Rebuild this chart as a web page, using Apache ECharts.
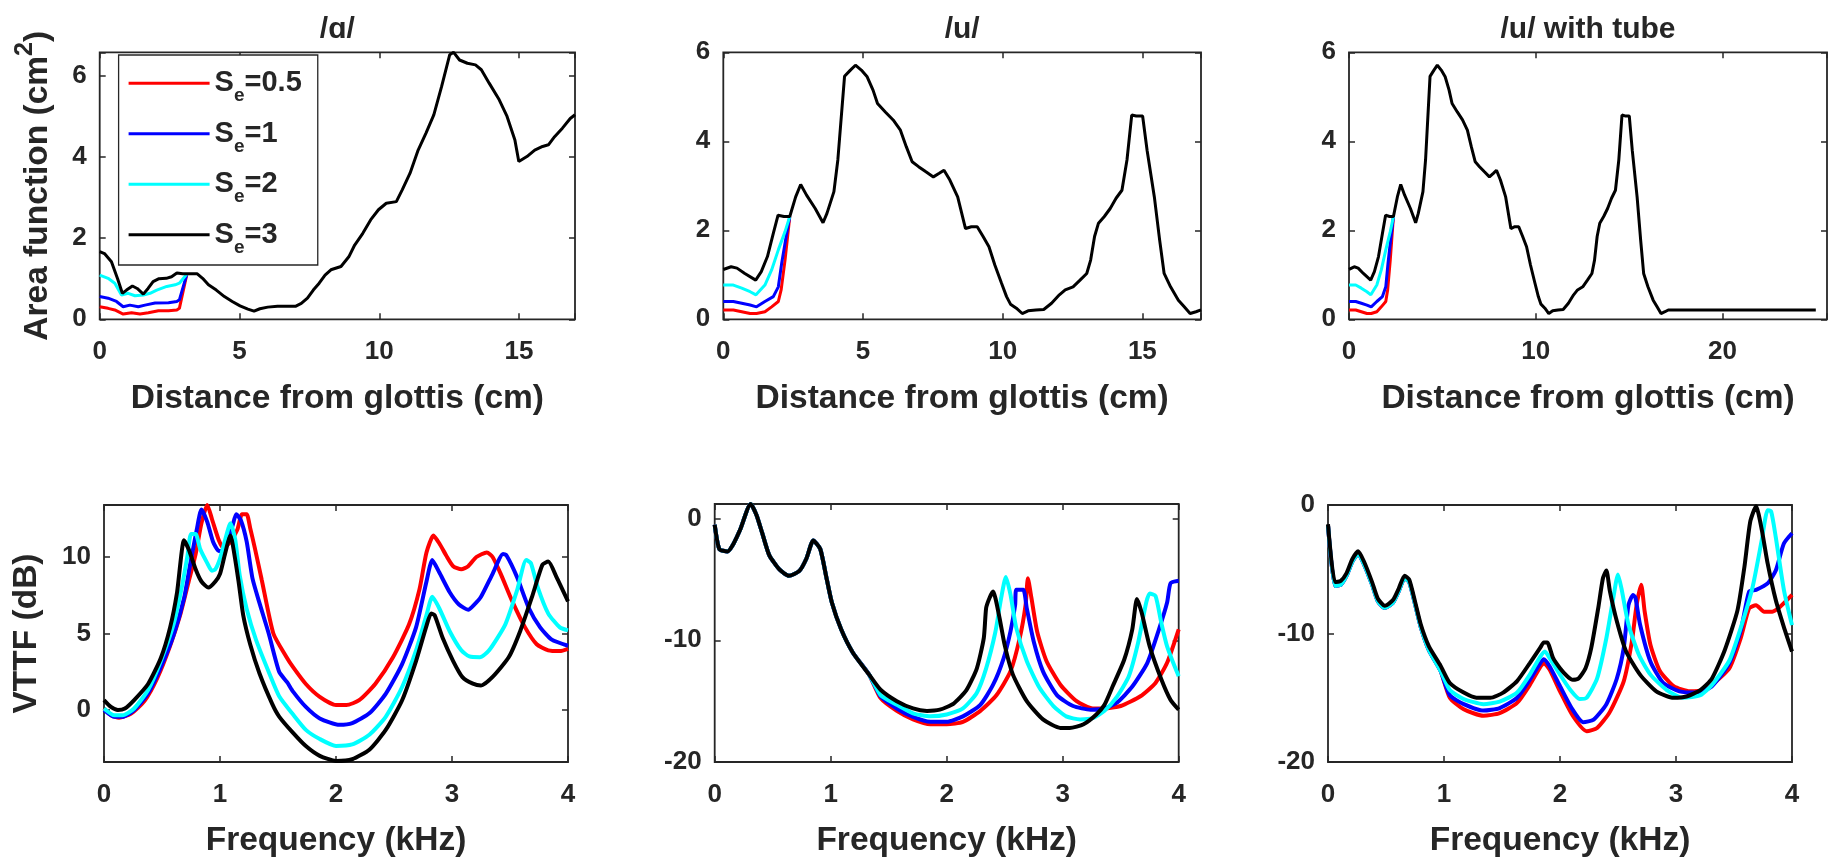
<!DOCTYPE html>
<html><head><meta charset="utf-8">
<script src="https://cdn.jsdelivr.net/npm/echarts@6.0.0/dist/echarts.min.js"></script>
<style>html,body{margin:0;padding:0;background:#fff}#c{width:1834px;height:864px}</style>
</head><body><div id="c"></div>
<script>
// ---------------- labels ----------------
const seNames = ['Se=0.5', 'Se=1', 'Se=2', 'Se=3'];
const seColors = ['#ff0000', '#0000ff', '#00ffff', '#000000'];
const panelTitles = ['/ɑ/', '/u/', '/u/ with tube'];
const topXName = 'Distance from glottis (cm)';
const botXName = 'Frequency (kHz)';
const botYName = 'VTTF (dB)';
// axis ranges / tick steps
const topXRange = [[0, 17], [0, 17.1], [0, 25.6]];
const topXStep = [5, 5, 10];
const topYRange = [[0, 6.58], [0, 6], [0, 6]];
const topYStep = [2, 2, 2];
const botXRange = [[0, 4], [0, 4], [0, 4]];
const botXStep = [1, 1, 1];
const botYRange = [[-3.4, 13.4], [-20, 1.2], [-20, 0]];
const botYStep = [5, 10, 10];

// ---------------- area function /ɑ/ (x cm, area cm2) ----------------
const aBlack = [[0,1.67],[0.17,1.62],[0.42,1.42],[0.64,1.0],[0.81,0.64],[0.96,0.72],[1.17,0.82],[1.34,0.76],[1.56,0.62],[1.73,0.76],[1.91,0.93],[2.12,1.0],[2.38,1.01],[2.57,1.05],[2.76,1.14],[2.97,1.12],[3.22,1.12],[3.49,1.12],[3.68,1.01],[3.89,0.85],[4.17,0.72],[4.46,0.56],[4.74,0.44],[5.02,0.33],[5.3,0.25],[5.52,0.2],[5.73,0.26],[6.01,0.3],[6.36,0.32],[7.0,0.32],[7.21,0.39],[7.43,0.52],[7.64,0.72],[7.85,0.89],[8.06,1.09],[8.27,1.22],[8.63,1.3],[8.91,1.54],[9.12,1.83],[9.41,2.12],[9.69,2.45],[9.97,2.7],[10.25,2.86],[10.61,2.9],[10.82,3.19],[11.1,3.6],[11.39,4.17],[11.67,4.59],[11.95,5.04],[12.23,5.74],[12.52,6.52],[12.66,6.58],[12.87,6.39],[13.15,6.31],[13.44,6.27],[13.65,6.15],[13.93,5.82],[14.29,5.41],[14.57,5.0],[14.85,4.42],[14.99,3.89],[15.28,4.01],[15.56,4.17],[15.84,4.26],[16.05,4.3],[16.27,4.5],[16.55,4.71],[16.83,4.95],[17.0,5.04]];
const aCyan = [[0,1.09],[0.3,1.01],[0.54,0.89],[0.78,0.6],[1.02,0.64],[1.26,0.58],[1.56,0.6],[1.8,0.64],[2.04,0.72],[2.4,0.81],[2.7,0.85],[2.85,0.89],[3.12,1.12]];
const aBlue = [[0,0.56],[0.3,0.52],[0.6,0.44],[0.84,0.31],[1.08,0.35],[1.38,0.31],[1.62,0.35],[1.98,0.4],[2.46,0.41],[2.76,0.44],[2.85,0.48],[3.12,1.12]];
const aRed = [[0,0.31],[0.3,0.27],[0.54,0.23],[0.84,0.13],[1.14,0.16],[1.44,0.13],[1.74,0.16],[2.1,0.21],[2.46,0.21],[2.76,0.23],[2.85,0.27],[3.12,1.12]];

// ---------------- area function /u/ ----------------
const uBlack = [[0,1.12],[0.28,1.18],[0.49,1.15],[0.77,1.03],[1.16,0.88],[1.36,1.07],[1.58,1.41],[1.79,1.93],[1.96,2.34],[2.17,2.31],[2.38,2.31],[2.59,2.75],[2.77,3.03],[2.98,2.79],[3.29,2.49],[3.57,2.17],[3.71,2.38],[3.96,2.87],[4.1,3.58],[4.34,5.46],[4.55,5.6],[4.73,5.71],[4.94,5.6],[5.15,5.45],[5.36,5.15],[5.52,4.85],[5.8,4.66],[6.08,4.48],[6.34,4.25],[6.55,3.88],[6.76,3.54],[6.99,3.43],[7.24,3.32],[7.52,3.2],[7.73,3.28],[7.9,3.35],[8.11,3.13],[8.39,2.75],[8.67,2.04],[8.88,2.08],[9.09,2.08],[9.3,1.86],[9.51,1.63],[9.72,1.22],[9.96,0.81],[10.14,0.51],[10.28,0.34],[10.49,0.25],[10.7,0.13],[10.91,0.19],[11.19,0.21],[11.47,0.22],[11.75,0.36],[12.03,0.55],[12.24,0.66],[12.52,0.73],[12.77,0.88],[13.01,1.03],[13.15,1.33],[13.29,1.86],[13.43,2.16],[13.64,2.31],[13.85,2.49],[14.06,2.72],[14.27,2.9],[14.45,3.58],[14.62,4.59],[14.78,4.57],[15.01,4.57],[15.17,3.8],[15.43,2.75],[15.62,1.78],[15.78,1.03],[16.01,0.73],[16.29,0.43],[16.5,0.28],[16.71,0.13],[16.92,0.17],[17.1,0.21]];
const uCyan = [[0,0.77],[0.36,0.77],[0.66,0.7],[0.96,0.62],[1.17,0.55],[1.49,0.77],[1.73,1.11],[1.97,1.56],[2.21,1.97],[2.38,2.31]];
const uBlue = [[0,0.4],[0.36,0.4],[0.66,0.36],[0.96,0.32],[1.19,0.28],[1.49,0.4],[1.79,0.51],[1.97,0.73],[2.09,1.26],[2.25,1.86],[2.38,2.31]];
const uRed = [[0,0.21],[0.36,0.21],[0.66,0.17],[0.96,0.13],[1.19,0.13],[1.49,0.17],[1.73,0.28],[1.97,0.4],[2.07,0.66],[2.21,1.33],[2.38,2.31]];
// extension tube appended to /u/
const tubeBlack = [[17.5,0.21],[25.0,0.21]];

// ---------------- VTTF /ɑ/ (kHz, dB) ----------------
const vaRed = [[0,0.1],[0.06,-0.35],[0.13,-0.5],[0.23,-0.25],[0.35,0.6],[0.46,2.1],[0.57,4.2],[0.66,6.3],[0.73,8.4],[0.79,10.2],[0.84,12.2],[0.89,13.4],[0.93,12.5],[0.99,11.1],[1.03,10.6],[1.09,11.0],[1.15,11.8],[1.19,12.8],[1.23,12.8],[1.26,11.9],[1.3,10.6],[1.36,8.5],[1.46,5.0],[1.57,3.5],[1.63,2.8],[1.74,1.7],[1.86,0.86],[2.0,0.32],[2.09,0.32],[2.2,0.64],[2.34,1.72],[2.49,3.43],[2.63,5.6],[2.72,7.9],[2.78,10.3],[2.84,11.4],[2.89,10.9],[2.95,10.1],[3.01,9.4],[3.08,9.2],[3.14,9.4],[3.21,10.0],[3.3,10.3],[3.35,10.0],[3.42,8.9],[3.52,7.1],[3.63,5.4],[3.73,4.3],[3.83,3.9],[3.93,3.85],[4.0,4.0]];
const vaBlue = [[0,0],[0.09,-0.45],[0.16,-0.45],[0.26,0],[0.38,1.1],[0.49,2.8],[0.6,4.9],[0.69,7.3],[0.74,9.4],[0.8,11.8],[0.84,13.1],[0.89,12.3],[0.94,11.0],[0.99,10.4],[1.03,10.4],[1.07,11.1],[1.11,12.1],[1.14,12.8],[1.18,12.4],[1.23,11.0],[1.28,8.6],[1.34,7.0],[1.42,5.0],[1.51,2.5],[1.58,1.8],[1.63,1.2],[1.74,0.2],[1.86,-0.55],[2.03,-0.97],[2.14,-0.86],[2.29,-0.2],[2.43,1.07],[2.57,3.0],[2.69,5.4],[2.78,8.4],[2.83,9.8],[2.89,9.0],[2.98,7.7],[3.06,6.9],[3.14,6.55],[3.19,6.87],[3.25,7.4],[3.35,8.9],[3.44,10.2],[3.47,10.1],[3.56,8.7],[3.66,6.7],[3.76,5.4],[3.86,4.6],[4.0,4.2]];
const vaCyan = [[0,0.1],[0.09,-0.35],[0.16,-0.35],[0.26,0.1],[0.38,1.3],[0.49,3.2],[0.6,5.6],[0.67,8.0],[0.72,10.1],[0.75,11.5],[0.79,11.5],[0.83,10.5],[0.89,9.6],[0.93,9.1],[0.96,9.2],[1.0,9.9],[1.04,11.0],[1.09,12.2],[1.13,11.2],[1.17,8.8],[1.23,6.6],[1.31,4.6],[1.43,2.3],[1.51,0.9],[1.63,-0.3],[1.74,-1.3],[1.86,-1.9],[2.0,-2.35],[2.14,-2.25],[2.29,-1.6],[2.43,-0.43],[2.57,1.5],[2.69,3.9],[2.78,6.2],[2.83,7.4],[2.89,6.65],[2.98,5.15],[3.08,3.9],[3.15,3.5],[3.24,3.45],[3.32,3.9],[3.46,5.6],[3.56,7.8],[3.64,9.8],[3.68,9.6],[3.74,8.0],[3.83,6.3],[3.93,5.4],[4.0,5.2]];
const vaBlack = [[0,0.65],[0.06,0.2],[0.12,0.0],[0.18,0.1],[0.26,0.65],[0.38,1.7],[0.49,3.4],[0.57,5.4],[0.63,7.7],[0.69,11.1],[0.73,10.5],[0.79,9.2],[0.84,8.4],[0.9,8.0],[0.96,8.4],[1.0,8.9],[1.04,10.1],[1.09,11.4],[1.11,10.8],[1.16,8.4],[1.2,6.2],[1.26,4.3],[1.34,2.4],[1.45,0.4],[1.51,-0.43],[1.63,-1.5],[1.74,-2.36],[1.86,-3.0],[2.0,-3.33],[2.14,-3.22],[2.29,-2.58],[2.43,-1.29],[2.57,0.64],[2.69,3.2],[2.78,5.5],[2.82,6.3],[2.85,6.2],[2.92,4.7],[3.01,3.2],[3.09,2.15],[3.18,1.72],[3.25,1.6],[3.35,2.16],[3.49,3.46],[3.59,5.2],[3.69,7.4],[3.78,9.5],[3.83,9.7],[3.9,8.7],[4.0,7.1]];

// ---------------- VTTF /u/ ----------------
const vuLow = [[0,-0.5],[0.04,-2.5],[0.11,-2.7],[0.16,-2.1],[0.22,-0.9],[0.31,1.2],[0.36,0.3],[0.41,-1.2],[0.47,-3.0],[0.56,-4.2],[0.64,-4.7],[0.73,-4.3],[0.79,-3.3],[0.85,-1.8],[0.91,-2.5],[0.96,-4.7],[1.01,-6.9],[1.09,-9.1],[1.19,-11.0],[1.33,-12.8]];
const vuRed = [[1.43,-14.75],[1.57,-15.8],[1.71,-16.5],[1.86,-16.9],[2.0,-16.9],[2.14,-16.7],[2.29,-15.8],[2.43,-14.5],[2.55,-12.55],[2.63,-9.8],[2.68,-7.1],[2.7,-4.9],[2.73,-6.5],[2.78,-9.3],[2.86,-11.7],[2.98,-13.65],[3.12,-15.0],[3.26,-15.6],[3.36,-15.6],[3.5,-15.4],[3.67,-14.6],[3.8,-13.5],[3.9,-11.85],[4.0,-9.1]];
const vuBlue = [[1.43,-14.6],[1.57,-15.6],[1.71,-16.3],[1.86,-16.7],[2.0,-16.7],[2.14,-16.25],[2.29,-15.3],[2.4,-13.65],[2.49,-11.5],[2.55,-9.27],[2.59,-7.1],[2.6,-5.84],[2.66,-5.84],[2.69,-7.35],[2.75,-10.1],[2.83,-12.55],[2.95,-14.5],[3.09,-15.4],[3.24,-15.7],[3.36,-15.6],[3.47,-15.1],[3.6,-13.8],[3.73,-11.85],[3.83,-9.1],[3.9,-6.9],[3.93,-5.3],[4.0,-5.1]];
const vuCyan = [[1.43,-14.5],[1.57,-15.3],[1.71,-16.0],[1.86,-16.25],[2.0,-16.1],[2.14,-15.6],[2.26,-14.3],[2.34,-12.3],[2.42,-9.3],[2.47,-6.5],[2.51,-4.8],[2.55,-6.25],[2.6,-9.0],[2.69,-11.7],[2.8,-13.9],[2.92,-15.4],[3.03,-16.25],[3.15,-16.5],[3.26,-16.4],[3.36,-15.8],[3.47,-14.6],[3.57,-12.95],[3.65,-10.2],[3.72,-6.9],[3.75,-6.15],[3.8,-6.35],[3.85,-8.56],[3.9,-10.5],[4.0,-12.95]];
const vuBlack = [[1.43,-14.06],[1.57,-15.0],[1.71,-15.6],[1.83,-15.8],[1.94,-15.7],[2.06,-15.2],[2.17,-14.1],[2.26,-12.3],[2.32,-9.8],[2.34,-7.35],[2.37,-6.5],[2.4,-6.0],[2.45,-7.9],[2.5,-10.4],[2.57,-12.8],[2.69,-15.0],[2.83,-16.5],[2.98,-17.2],[3.06,-17.2],[3.18,-16.9],[3.29,-16.1],[3.36,-15.3],[3.43,-13.8],[3.53,-11.6],[3.6,-9.1],[3.64,-6.6],[3.68,-7.7],[3.75,-10.5],[3.85,-13.2],[3.93,-14.9],[4.0,-15.7]];

// ---------------- VTTF /u/ with tube ----------------
const vtLowColor = [[0,-1.56],[0.06,-6.3],[0.11,-6.2],[0.16,-5.5],[0.21,-4.4],[0.26,-3.8],[0.31,-4.6],[0.38,-6.2],[0.43,-7.5],[0.49,-8.0],[0.56,-7.6],[0.61,-6.7],[0.66,-5.7],[0.7,-6.0],[0.75,-7.7],[0.8,-9.5],[0.87,-11.3],[0.97,-12.9]];
const vtLowBlack = [[0,-1.5],[0.06,-6.0],[0.11,-5.9],[0.16,-5.3],[0.21,-4.2],[0.26,-3.6],[0.31,-4.4],[0.38,-6.0],[0.43,-7.3],[0.49,-7.85],[0.56,-7.4],[0.61,-6.5],[0.66,-5.5],[0.7,-5.8],[0.75,-7.5],[0.8,-9.3],[0.87,-11.0],[0.97,-12.5]];
const vtRed = [[1.05,-15.0],[1.17,-15.9],[1.34,-16.4],[1.48,-16.2],[1.63,-15.4],[1.74,-14.0],[1.83,-12.6],[1.86,-12.3],[1.91,-12.8],[2.0,-14.5],[2.11,-16.4],[2.23,-17.6],[2.32,-17.35],[2.43,-16.1],[2.55,-13.7],[2.62,-10.6],[2.66,-7.8],[2.7,-6.2],[2.73,-8.3],[2.78,-10.9],[2.86,-12.9],[2.98,-14.1],[3.12,-14.5],[3.24,-14.4],[3.31,-14.0],[3.46,-12.7],[3.56,-10.3],[3.63,-8.05],[3.69,-7.8],[3.76,-8.3],[3.83,-8.3],[3.9,-7.9],[4.0,-7.0]];
const vtBlue = [[1.05,-14.8],[1.17,-15.5],[1.34,-16.0],[1.48,-15.8],[1.63,-15.0],[1.74,-13.6],[1.83,-12.3],[1.86,-12.0],[1.91,-12.55],[2.0,-14.1],[2.1,-15.8],[2.2,-16.9],[2.29,-16.7],[2.4,-15.5],[2.49,-13.5],[2.55,-11.1],[2.59,-7.8],[2.63,-7.0],[2.65,-7.2],[2.69,-9.3],[2.78,-12.2],[2.89,-13.85],[3.03,-14.5],[3.18,-14.6],[3.31,-14.1],[3.46,-12.3],[3.56,-9.7],[3.63,-6.75],[3.69,-6.6],[3.79,-6.1],[3.86,-5.1],[3.93,-3.0],[4.0,-2.2]];
const vtCyan = [[1.05,-14.4],[1.17,-15.1],[1.34,-15.5],[1.48,-15.3],[1.63,-14.6],[1.74,-13.2],[1.83,-11.8],[1.87,-11.4],[1.91,-11.9],[2.0,-13.2],[2.09,-14.4],[2.17,-15.1],[2.23,-15.0],[2.32,-13.5],[2.4,-10.35],[2.46,-7.2],[2.5,-5.4],[2.53,-6.5],[2.59,-9.3],[2.68,-11.65],[2.78,-13.2],[2.92,-14.4],[3.06,-15.0],[3.21,-14.8],[3.31,-14.0],[3.46,-12.1],[3.56,-9.5],[3.66,-6.4],[3.74,-2.7],[3.79,-0.4],[3.82,-0.5],[3.86,-2.5],[3.93,-6.6],[4.0,-9.35]];
const vtBlack = [[1.05,-13.85],[1.17,-14.6],[1.28,-15.0],[1.4,-15.0],[1.51,-14.6],[1.63,-13.7],[1.74,-12.3],[1.83,-11.1],[1.86,-10.7],[1.89,-10.7],[1.94,-11.9],[2.0,-12.7],[2.06,-13.3],[2.11,-13.6],[2.16,-13.5],[2.22,-12.7],[2.27,-11.1],[2.33,-8.0],[2.37,-5.7],[2.4,-5.1],[2.43,-6.7],[2.49,-9.05],[2.57,-11.4],[2.69,-13.2],[2.83,-14.5],[2.98,-15.0],[3.09,-14.9],[3.21,-14.4],[3.31,-13.5],[3.42,-11.3],[3.53,-8.2],[3.59,-4.8],[3.64,-1.3],[3.69,-0.1],[3.74,-1.95],[3.79,-4.55],[3.86,-7.4],[3.93,-9.5],[4.0,-11.4]];

// ---------------- build chart ----------------
const FONT = "'Liberation Sans', Arial, 'DejaVu Sans', sans-serif";
const TXT = '#262626';

const panels = [
  {grid: {left: 99.7, top: 52.3, width: 475.3, height: 267}, xr: topXRange[0], xs: topXStep[0], yr: topYRange[0], ys: topYStep[0], lw: 3, sm: 0,
   data: [aRed, aBlue, aCyan, aBlack], xName: topXName, yName: '{a|Area function (cm}{b|2}{a|)}', yGap: 37},
  {grid: {left: 723.3, top: 52.3, width: 477.7, height: 267}, xr: topXRange[1], xs: topXStep[1], yr: topYRange[1], ys: topYStep[1], lw: 3, sm: 0,
   data: [uRed, uBlue, uCyan, uBlack], xName: topXName},
  {grid: {left: 1349, top: 52.3, width: 478, height: 267}, xr: topXRange[2], xs: topXStep[2], yr: topYRange[2], ys: topYStep[2], lw: 3, sm: 0,
   data: [uRed, uBlue, uCyan, uBlack.concat(tubeBlack)], xName: topXName},
  {grid: {left: 104, top: 505, width: 464, height: 257}, xr: botXRange[0], xs: botXStep[0], yr: botYRange[0], ys: botYStep[0], lw: 4, sm: 0.2,
   data: [vaRed, vaBlue, vaCyan, vaBlack], xName: botXName, yName: botYName, yGap: 60},
  {grid: {left: 714.7, top: 504, width: 464, height: 258}, xr: botXRange[1], xs: botXStep[1], yr: botYRange[1], ys: botYStep[1], lw: 4, sm: 0.2,
   data: [vuLow.concat(vuRed), vuLow.concat(vuBlue), vuLow.concat(vuCyan), vuLow.concat(vuBlack)], xName: botXName},
  {grid: {left: 1328, top: 505, width: 464, height: 257}, xr: botXRange[2], xs: botXStep[2], yr: botYRange[2], ys: botYStep[2], lw: 4, sm: 0.2,
   data: [vtLowColor.concat(vtRed), vtLowColor.concat(vtBlue), vtLowColor.concat(vtCyan), vtLowBlack.concat(vtBlack)], xName: botXName}
];

function fmt(step) {
  return function (v) {
    const r = v / step;
    return Math.abs(r - Math.round(r)) < 1e-6 ? String(Math.round(v)) : '';
  };
}
function baseAxis(gi, range, step, pos, showLabel, margin) {
  const ax = {
    type: 'value', gridIndex: gi, min: range[0], max: range[1], position: pos,
    axisLine: {show: false, onZero: false},
    axisTick: {show: true, inside: true, length: 6, lineStyle: {color: TXT, width: 1.5}},
    splitLine: {show: false},
    axisLabel: {show: showLabel, fontFamily: FONT, fontWeight: 'bold', fontSize: 26, color: TXT,
                margin: margin, formatter: fmt(step), lineHeight: 26}
  };
  if (Math.abs(range[0] / step - Math.round(range[0] / step)) < 1e-9) ax.interval = step;
  else ax.splitNumber = 3;
  return ax;
}

const grids = [], xAxes = [], yAxes = [], series = [], titles = [];
panels.forEach((p, gi) => {
  grids.push(Object.assign({show: true, borderColor: TXT, borderWidth: 1.8, containLabel: false}, p.grid));
  const xa = baseAxis(gi, p.xr, p.xs, 'bottom', true, 20);
  xa.name = p.xName; xa.nameLocation = 'middle'; xa.nameGap = 62;
  xa.nameTextStyle = {fontFamily: FONT, fontWeight: 'bold', fontSize: 33.5, color: TXT, lineHeight: 34};
  xAxes.push(xa);
  const ya = baseAxis(gi, p.yr, p.ys, 'left', true, 13);
  if (p.yName) {
    ya.name = p.yName; ya.nameLocation = 'middle'; ya.nameGap = p.yGap;
    ya.nameTextStyle = {fontFamily: FONT, fontWeight: 'bold', fontSize: 33.5, color: TXT, lineHeight: 34,
      rich: {
        a: {fontFamily: FONT, fontWeight: 'bold', fontSize: 33.5, color: TXT, lineHeight: 50, verticalAlign: 'middle'},
        b: {fontFamily: FONT, fontWeight: 'bold', fontSize: 25, color: TXT, lineHeight: 25, verticalAlign: 'top'}
      }};
  }
  yAxes.push(ya);
  p.data.forEach((d, k) => {
    series.push({
      type: 'line', name: seNames[k], xAxisIndex: gi, yAxisIndex: gi, data: d,
      symbol: 'none', showSymbol: false, clip: true, silent: true, z: 2 + k, smooth: p.sm,
      lineStyle: {color: seColors[k], width: p.lw}, itemStyle: {color: seColors[k]},
      emphasis: {disabled: true}
    });
  });
  if (gi < 3) {
    titles.push({text: panelTitles[gi], left: p.grid.left + p.grid.width / 2, top: 15, textAlign: 'center', padding: 0,
      textStyle: {fontFamily: FONT, fontWeight: 'bold', fontSize: 30, color: TXT, lineHeight: 30}});
  }
});
// mirrored tick marks on top / right (box style)
panels.forEach((p, gi) => {
  xAxes.push(baseAxis(gi, p.xr, p.xs, 'top', false, 8));
  yAxes.push(baseAxis(gi, p.yr, p.ys, 'right', false, 8));
});

const option = {
  animation: false,
  backgroundColor: '#ffffff',
  textStyle: {fontFamily: FONT},
  title: titles,
  grid: grids,
  xAxis: xAxes,
  yAxis: yAxes,
  legend: {
    data: seNames, orient: 'vertical', left: 118.6, top: 55,
    icon: 'rect', itemWidth: 81, itemHeight: 3, itemGap: 6.5,
    padding: [6.3, 16, 8.2, 10],
    borderColor: TXT, borderWidth: 1.3, backgroundColor: '#ffffff',
    selectedMode: false, z: 20,
    formatter: function (name) { return '{s|S}{e|e}{s|=' + name.split('=')[1] + '}'; },
    textStyle: {
      lineHeight: 44,
      rich: {
        s: {fontFamily: FONT, fontWeight: 'bold', fontSize: 29, color: TXT, lineHeight: 44, height: 44, verticalAlign: 'middle'},
        e: {fontFamily: FONT, fontWeight: 'bold', fontSize: 19, color: TXT, lineHeight: 19, verticalAlign: 'bottom'}
      }
    }
  },
  series: series
};

const chart = echarts.init(document.getElementById('c'), null, {renderer: 'canvas', width: 1834, height: 864});
chart.setOption(option);
</script></body></html>
